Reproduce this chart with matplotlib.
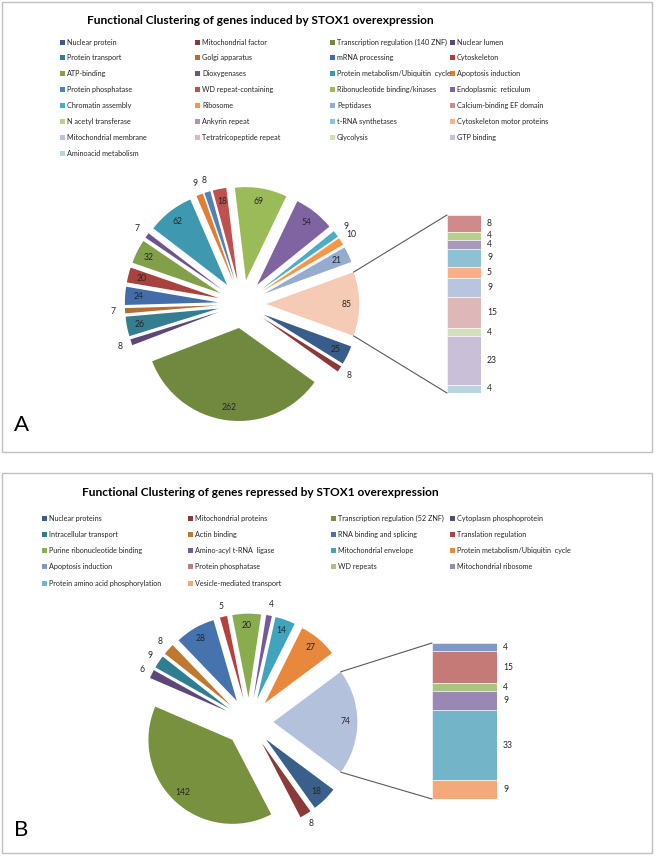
import matplotlib.pyplot as plt
from matplotlib.patches import Rectangle, ConnectionPatch
import numpy as np

plt.rcParams['font.family'] = ['Lato', 'DejaVu Sans']

# ---- panel A: genes induced ----
a_pie_labels = ['Nuclear protein', 'Mitochondrial factor', 'Transcription regulation (140 ZNF)',
                'Nuclear lumen', 'Protein transport', 'Golgi apparatus', 'mRNA processing',
                'Cytoskeleton', 'ATP-binding', 'Dioxygenases', 'Protein metabolism/Ubiquitin  cycle',
                'Apoptosis induction', 'Protein phosphatase', 'WD repeat-containing',
                'Ribonucleotide binding/kinases', 'Endoplasmic  reticulum', 'Chromatin assembly',
                'Ribosome', 'Peptidases']
a_pie_values = [25, 8, 262, 8, 26, 7, 24, 20, 32, 7, 62, 9, 8, 18, 69, 54, 9, 10, 21]
a_pie_colors = ['#385d8a', '#8c3836', '#71893f', '#5c4776', '#357d91', '#b66d31', '#426da9',
                '#a7423f', '#82a04a', '#6e548d', '#3e99b0', '#e07f34', '#4f81bd', '#c0504d',
                '#9bbb59', '#8064a2', '#4bacc6', '#f79646', '#95abd0']
a_other_color = '#f5cbb5'
a_bar_labels = ['Calcium-binding EF domain', 'N acetyl transferase', 'Ankyrin repeat',
                't-RNA synthetases', 'Cytoskeleton motor proteins', 'Mitochondrial membrane',
                'Tetratricopeptide repeat', 'Glycolysis', 'GTP binding', 'Aminoacid metabolism']
a_bar_values = [8, 4, 4, 9, 5, 9, 15, 4, 23, 4]
a_bar_colors = ['#cf8b8c', '#b8cf8e', '#a898be', '#8cc2d4', '#f7b08a', '#b9c5df',
                '#deb8b9', '#d3e0be', '#c9c0d8', '#b8d6e2']

# ---- panel B: genes repressed ----
b_pie_labels = ['Nuclear proteins', 'Mitochondrial proteins', 'Transcription regulation (52 ZNF)',
                'Cytoplasm phosphoprotein', 'Intracellular transport', 'Actin binding',
                'RNA binding and splicing', 'Translation regulation', 'Purine ribonucleotide binding',
                'Amino-acyl t-RNA  ligase', 'Mitochondrial envelope',
                'Protein metabolism/Ubiquitin  cycle']
b_pie_values = [18, 8, 142, 6, 9, 8, 28, 5, 20, 4, 14, 27]
b_pie_colors = ['#3a5f8a', '#8b3a38', '#77913f', '#5d4778', '#2f7d91', '#c0772f', '#4672ae',
                '#b5403d', '#89ac4e', '#7458a0', '#40a4be', '#e8883c']
b_other_color = '#b4c1dc'
b_bar_labels = ['Apoptosis induction', 'Protein phosphatase', 'WD repeats',
                'Mitochondrial ribosome', 'Protein amino acid phosphorylation',
                'Vesicle-mediated transport']
b_bar_values = [4, 15, 4, 9, 33, 9]
b_bar_colors = ['#7d98c9', '#c57a78', '#a9c47d', '#9a87b3', '#74b4c8', '#f2a97c']

W, H = 656, 856
fig = plt.figure(figsize=(W / 100, H / 100), dpi=100)

# overlay axes in pixel coordinates for frames, titles and legends
ov = fig.add_axes([0, 0, 1, 1])
ov.set_xlim(0, W)
ov.set_ylim(H, 0)
ov.axis('off')


def px_axes(left, top, w, h):
    return fig.add_axes([left / W, (H - top - h) / H, w / W, h / H])


def legend_grid(labels, colors, xs, y0, dy):
    for i, (lab, col) in enumerate(zip(labels, colors)):
        x = xs[i % 4]
        y = y0 + dy * (i // 4)
        ov.add_patch(Rectangle((x - 2.5, y - 2.5), 5, 5, color=col, lw=0))
        ov.text(x + 5, y, lab, fontsize=5.2, va='center', ha='left', color='#262626')


def draw_panel(cx, cy, r, pie_vals, pie_cols, other_col, bar_vals, bar_cols,
               bar_box, explode, inside_min):
    vals = pie_vals + [sum(bar_vals)]
    total = sum(vals)
    ext = 1.5
    pa = px_axes(cx - ext * r, cy - ext * r, 2 * ext * r, 2 * ext * r)
    wedges, _ = pa.pie(vals, colors=pie_cols + [other_col], counterclock=False,
                       startangle=-180 * vals[-1] / total, explode=[explode] * len(vals),
                       radius=1, wedgeprops=dict(linewidth=0))
    pa.set_xlim(-ext, ext)
    pa.set_ylim(-ext, ext)
    pa.set_aspect('auto')
    for w, v in zip(wedges, vals):
        mid = np.deg2rad((w.theta1 + w.theta2) / 2)
        d = 0.86 if v >= inside_min else 1.13
        x = w.center[0] + d * np.cos(mid)
        y = w.center[1] + d * np.sin(mid)
        pa.text(x, y, str(v), fontsize=6.2, ha='center', va='center', color='#262626')

    # bar of the "other" slice
    bl, bt, bw, bh = bar_box
    ba = px_axes(bl, bt, bw, bh)
    tot = sum(bar_vals)
    bottoms = tot - np.cumsum(bar_vals)
    ba.bar(0, bar_vals, bottom=bottoms, width=1, color=bar_cols,
           edgecolor='white', linewidth=0.4)
    ba.set_xlim(-0.5, 0.5)
    ba.set_ylim(0, tot)
    ba.axis('off')
    for v, b in zip(bar_vals, bottoms):
        ba.text(1.0 + 6 / bw, b + v / 2, str(v), transform=ba.get_yaxis_transform(),
                fontsize=6.2, ha='left', va='center', color='#262626')

    # connector lines
    ow = wedges[-1]
    c = ow.center
    up = (c[0] + np.cos(np.deg2rad(ow.theta2)), c[1] + np.sin(np.deg2rad(ow.theta2)))
    lo = (c[0] + np.cos(np.deg2rad(ow.theta1)), c[1] + np.sin(np.deg2rad(ow.theta1)))
    for p, corner in ((up, (0, 1)), (lo, (0, 0))):
        con = ConnectionPatch(xyA=p, coordsA=pa.transData, xyB=corner, coordsB=ba.transAxes,
                              color='#595959', lw=0.8)
        fig.add_artist(con)


# panel frames
ov.add_patch(Rectangle((2, 2), 650, 450, fill=False, ec='#bfbfbf', lw=1))
ov.add_patch(Rectangle((2, 473), 650, 380, fill=False, ec='#bfbfbf', lw=1))

# panel A
ov.text(260, 20, 'Functional Clustering of genes induced by STOX1 overexpression',
        fontsize=8.6, fontweight='bold', ha='center', va='center')
legend_grid(a_pie_labels + a_bar_labels, a_pie_colors + a_bar_colors,
            [62, 197, 332, 452], 42, 15.9)
draw_panel(242, 304, 93, a_pie_values, a_pie_colors, a_other_color,
           a_bar_values, a_bar_colors, (447, 215, 34, 178), 0.26, 14)
ov.text(14, 425, 'A', fontsize=16, ha='left', va='center')

# panel B
ov.text(260, 492, 'Functional Clustering of genes repressed by STOX1 overexpression',
        fontsize=8.6, fontweight='bold', ha='center', va='center')
legend_grid(b_pie_labels + b_bar_labels, b_pie_colors + b_bar_colors,
            [44, 190, 333, 452], 518, 16.3)
draw_panel(249, 722, 84, b_pie_values, b_pie_colors, b_other_color,
           b_bar_values, b_bar_colors, (432, 643, 65, 156), 0.29, 14)
ov.text(14, 830, 'B', fontsize=16, ha='left', va='center')

fig.savefig('out.png', dpi=100)
